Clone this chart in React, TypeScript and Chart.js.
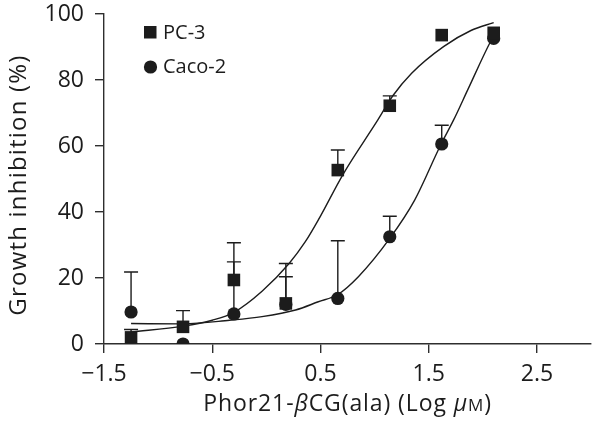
import React, { useEffect, useRef } from "react";
import { Chart, registerables } from "chart.js";

Chart.register(...registerables);

// ---- data ----
const doses = [-1.25, -0.77, -0.3, 0.18, 0.66, 1.14, 1.62, 2.1];
const pc3Values = [2.0, 5.2, 19.4, 12.3, 52.7, 72.2, 93.6, 94.3];
const pc3ErrorTop: (number | null)[] = [4.4, 10.1, 30.7, 24.4, 58.8, 75.2, null, null];
const caco2Values = [9.7, 0.0, 9.1, 12.0, 13.8, 32.5, 60.6, 92.6];
const caco2ErrorTop: (number | null)[] = [21.8, null, 24.9, 20.4, 31.3, 38.7, 66.3, null];

const pc3CurveX = [-1.25, -0.77, -0.5, -0.3, -0.04, 0.21, 0.36, 0.48, 0.71, 1.03, 1.17, 1.34, 1.64, 1.89, 2.1];
const pc3CurveY = [3.6, 5.4, 7.2, 9.6, 16.0, 24.4, 31.0, 37.6, 51.5, 67.9, 75.3, 82.0, 90.2, 95.0, 97.4];
const caco2CurveX = [-1.25, -0.77, -0.34, -0.04, 0.27, 0.48, 0.66, 0.85, 1.14, 1.37, 1.61, 1.73, 1.86, 2.07, 2.1];
const caco2CurveY = [6.2, 6.1, 7.2, 8.3, 10.3, 12.8, 15.0, 20.4, 32.0, 43.6, 60.3, 67.9, 77.0, 91.6, 93.3];

const xTicks = [-1.5, -0.5, 0.5, 1.5, 2.5];
const yTicks = [0, 20, 40, 60, 80, 100];
const seriesNames = ["PC-3", "Caco-2"];

const FONT = "'Open Sans', 'DejaVu Sans', sans-serif";
const INK = "#1c1c1c";
const AXIS = "#2e2e2e";

const errorBarPlugin = {
  id: "errorBars",
  beforeDatasetsDraw(chart: any) {
    const { ctx, scales } = chart;
    const xs = scales.x;
    const ys = scales.y;
    ctx.save();
    ctx.strokeStyle = INK;
    ctx.lineWidth = 1.4;
    const draw = (vals: number[], tops: (number | null)[]) => {
      doses.forEach((d, i) => {
        const t = tops[i];
        if (t == null) return;
        const px = xs.getPixelForValue(d);
        const py = ys.getPixelForValue(vals[i]);
        const pt = ys.getPixelForValue(t);
        ctx.beginPath();
        ctx.moveTo(px, py);
        ctx.lineTo(px, pt);
        ctx.moveTo(px - 7, pt);
        ctx.lineTo(px + 7, pt);
        ctx.stroke();
      });
    };
    draw(caco2Values, caco2ErrorTop);
    draw(pc3Values, pc3ErrorTop);
    ctx.restore();
  },
};

const labelsPlugin = {
  id: "labels",
  afterDraw(chart: any) {
    const { ctx, chartArea } = chart;
    ctx.save();
    ctx.fillStyle = INK;
    // legend
    ctx.font = `20px ${FONT}`;
    ctx.textBaseline = "middle";
    ctx.textAlign = "left";
    ctx.fillRect(144, 26, 12.5, 12.5);
    ctx.fillText(seriesNames[0], 163, 33);
    ctx.beginPath();
    ctx.arc(150.5, 67, 6.6, 0, Math.PI * 2);
    ctx.fill();
    ctx.fillText(seriesNames[1], 163, 67);

    // x title with mixed styles
    const sp = 0.9;
    (ctx as any).letterSpacing = `${sp}px`;
    const parts: [string, string][] = [
      ["Phor21-", `23px ${FONT}`],
      ["\u03B2", `italic 23px ${FONT}`],
      ["CG(ala) (Log ", `23px ${FONT}`],
      ["\u03BC", `italic 23px ${FONT}`],
      ["M", `17px ${FONT}`],
      [")", `23px ${FONT}`],
    ];
    let total = 0;
    parts.forEach(([t, f]) => {
      ctx.font = f;
      total += ctx.measureText(t).width;
    });
    let x = (chartArea.left + chartArea.right) / 2 - total / 2;
    ctx.textBaseline = "alphabetic";
    parts.forEach(([t, f]) => {
      ctx.font = f;
      ctx.fillText(t, x, 411);
      x += ctx.measureText(t).width;
    });

    // y title
    (ctx as any).letterSpacing = "1.2px";
    ctx.translate(26, 185);
    ctx.rotate(-Math.PI / 2);
    ctx.font = `24px ${FONT}`;
    ctx.textAlign = "center";
    ctx.fillText("Growth inhibition (%)", 0, 0);
    (ctx as any).letterSpacing = "0px";
    ctx.restore();
  },
};

export default function App() {
  const ref = useRef<HTMLCanvasElement | null>(null);
  useEffect(() => {
    if (!ref.current) return;
    const pts = (xs: number[], ys: number[]) => xs.map((x, i) => ({ x, y: ys[i] }));
    const chart = new Chart(ref.current, {
      type: "scatter",
      data: {
        datasets: [
          {
            label: seriesNames[0],
            data: pts(doses, pc3Values),
            pointStyle: "rect",
            pointRadius: 8.9,
            backgroundColor: INK,
            borderColor: INK,
            borderWidth: 0,
            showLine: false,
          },
          {
            label: seriesNames[1],
            data: pts(doses, caco2Values),
            pointStyle: "circle",
            pointRadius: 6.6,
            backgroundColor: INK,
            borderColor: INK,
            borderWidth: 0,
            showLine: false,
          },
          {
            label: "PC-3 fit",
            data: pts(pc3CurveX, pc3CurveY),
            showLine: true,
            pointRadius: 0,
            borderColor: INK,
            borderWidth: 1.4,
            cubicInterpolationMode: "monotone",
          } as any,
          {
            label: "Caco-2 fit",
            data: pts(caco2CurveX, caco2CurveY),
            showLine: true,
            pointRadius: 0,
            borderColor: INK,
            borderWidth: 1.4,
            cubicInterpolationMode: "monotone",
          } as any,
        ],
      },
      options: {
        animation: false,
        responsive: false,
        maintainAspectRatio: false,
        layout: { padding: { top: 14, right: 5, left: 0, bottom: 0 } },
        plugins: { legend: { display: false }, tooltip: { enabled: false } },
        scales: {
          x: {
            type: "linear",
            min: -1.5,
            max: 3.0,
            afterBuildTicks: (s: any) => {
              s.ticks = xTicks.map((v) => ({ value: v }));
            },
            afterFit: (s: any) => {
              s.height = 84;
              s.paddingLeft = 0;
              s.paddingRight = 0;
              s.paddingTop = 0;
              s.paddingBottom = 0;
            },
            ticks: {
              maxRotation: 0,
              autoSkip: false,
              padding: 8,
              color: INK,
              font: { family: FONT, size: 23 },
              callback: (v: any) => {
                const n = Number(v);
                return n < 0 ? "\u2212" + Math.abs(n).toFixed(1) : n.toFixed(1);
              },
            },
            grid: { display: true, drawOnChartArea: false, drawTicks: true, tickLength: 9, color: AXIS, lineWidth: 1.4 },
            border: { display: true, color: AXIS, width: 1.4 },
          },
          y: {
            type: "linear",
            min: 0,
            max: 100,
            afterBuildTicks: (s: any) => {
              s.ticks = yTicks.map((v) => ({ value: v }));
            },
            afterFit: (s: any) => {
              s.width = 104;
              s.paddingLeft = 0;
              s.paddingRight = 0;
              s.paddingTop = 0;
              s.paddingBottom = 0;
            },
            ticks: {
              padding: 11,
              color: INK,
              font: { family: FONT, size: 23 },
            },
            grid: { display: true, drawOnChartArea: false, drawTicks: true, tickLength: 9, color: AXIS, lineWidth: 1.4 },
            border: { display: true, color: AXIS, width: 1.4 },
          },
        },
      },
      plugins: [errorBarPlugin, labelsPlugin],
    } as any);
    return () => chart.destroy();
  }, []);
  return (
    <div style={{ position: "absolute", left: 0, top: 0, width: 600, height: 428, background: "#fff" }}>
      <canvas ref={ref} width={600} height={428} style={{ width: 600, height: 428 }} />
    </div>
  );
}
